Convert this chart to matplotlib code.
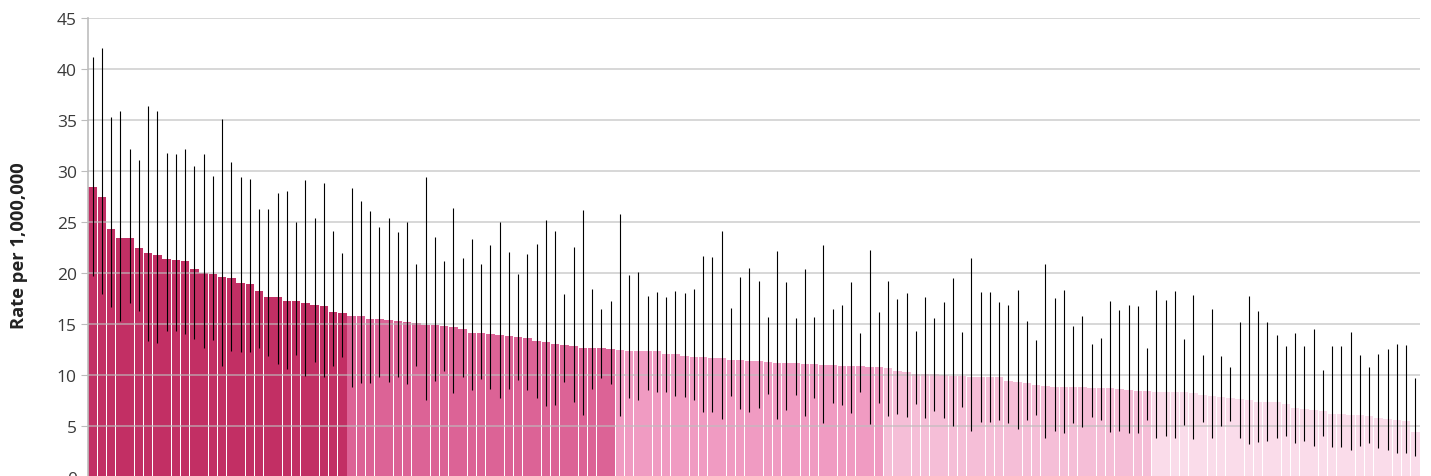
import numpy as np
import matplotlib
matplotlib.use("Agg")
import matplotlib.pyplot as plt

plt.rcParams['font.family'] = ['Open Sans', 'DejaVu Sans']

# rate per 1,000,000, sorted high to low
rates = [
    28.45, 27.5, 24.28, 23.43, 23.4, 22.5, 22.0, 21.73, 21.37, 21.3,
    21.2, 20.36, 20.03, 19.93, 19.58, 19.54, 19.02, 18.92, 18.27, 17.65,
    17.62, 17.25, 17.25, 17.03, 16.9, 16.8, 16.21, 16.08,
    15.81, 15.78, 15.49, 15.49, 15.36, 15.33, 15.16, 15.1, 14.9, 14.9,
    14.8, 14.7, 14.5, 14.15, 14.12, 14.02, 13.95, 13.79, 13.76, 13.63,
    13.33, 13.24, 13.07, 12.91, 12.88, 12.65, 12.65, 12.61, 12.55,
    12.45, 12.35, 12.32, 12.32, 12.32, 12.09, 12.06, 11.86, 11.76, 11.76,
    11.67, 11.63, 11.47, 11.44, 11.4, 11.37, 11.27, 11.18, 11.18, 11.18,
    11.08, 11.04, 10.98, 10.98, 10.88, 10.88, 10.88, 10.75, 10.75,
    10.69, 10.39, 10.29, 10.1, 10.1, 10.07, 10.03, 9.9, 9.87, 9.84,
    9.84, 9.84, 9.77, 9.41, 9.31, 9.25, 9.02, 8.92, 8.82, 8.82,
    8.82, 8.79, 8.73, 8.69, 8.69, 8.6, 8.53, 8.43, 8.4,
    8.37, 8.37, 8.37, 8.3, 8.2, 8.04, 7.97, 7.87, 7.75, 7.65,
    7.55, 7.39, 7.35, 7.32, 7.12, 6.8, 6.7, 6.57, 6.47, 6.18,
    6.18, 6.08, 6.08, 5.98, 5.82, 5.72, 5.59, 5.52, 4.44,
]

upper = [
    41.15, 42.06, 35.33, 35.88, 32.12, 31.05, 36.37, 35.9, 31.8, 31.7,
    32.12, 30.52, 31.67, 29.48, 35.06, 30.85, 29.38, 29.2, 26.27, 26.24,
    27.84, 28.07, 24.97, 29.12, 25.39, 28.82, 24.15, 21.99,
    28.36, 27.09, 26.08, 24.51, 25.39, 23.99, 25.0, 20.88, 29.41, 23.53,
    21.18, 26.37, 21.47, 23.37, 20.88, 22.75, 25.0, 22.09, 19.9, 21.83,
    22.84, 25.23, 24.12, 17.94, 22.52, 26.14, 18.4, 16.44, 17.25,
    25.78, 19.84, 20.07, 17.71, 18.17, 17.65, 18.27, 18.01, 18.43, 21.7,
    21.54, 24.08, 16.6, 19.61, 20.46, 19.18, 15.69, 22.16, 19.12, 15.56,
    20.39, 15.72, 22.71, 16.47, 16.86, 19.12, 14.12, 22.25, 16.18,
    19.25, 17.48, 18.04, 14.28, 17.68, 15.59, 17.12, 19.51, 14.22, 21.47,
    18.14, 18.1, 17.16, 16.86, 18.37, 15.26, 13.43, 20.88, 17.52, 18.33,
    14.84, 15.78, 13.04, 13.63, 17.25, 16.37, 16.83, 16.73, 12.61,
    18.33, 17.32, 18.27, 13.56, 17.88, 11.93, 16.47, 11.89, 10.82, 15.2,
    17.75, 16.27, 15.16, 13.92, 12.88, 14.12, 12.84, 14.48, 10.52, 12.84,
    12.84, 14.25, 11.99, 10.82, 12.09, 12.51, 13.04, 12.94, 9.71,
]

lower = [
    19.74, 17.97, 16.7, 15.33, 17.03, 16.3, 13.33, 13.14, 14.31, 14.28,
    13.99, 13.53, 12.65, 13.46, 10.88, 12.32, 12.25, 12.22, 12.68, 11.83,
    11.1, 10.62, 11.93, 9.9, 11.27, 9.83, 10.88, 11.76,
    8.85, 9.25, 9.25, 9.8, 9.31, 9.84, 9.15, 10.92, 7.55, 9.41,
    10.42, 8.2, 9.84, 8.56, 9.57, 8.6, 7.78, 8.6, 9.51, 8.5,
    7.78, 6.96, 7.09, 9.28, 7.35, 6.11, 8.63, 9.67, 9.15,
    6.01, 7.75, 7.58, 8.56, 8.37, 8.33, 7.97, 7.84, 7.58, 6.4,
    6.34, 5.65, 7.94, 6.7, 6.4, 6.8, 8.17, 5.72, 6.54, 8.07,
    6.01, 7.78, 5.33, 7.29, 7.09, 6.24, 8.37, 5.23, 7.22,
    6.01, 6.21, 5.92, 7.19, 5.78, 6.5, 5.82, 5.03, 6.9, 4.54,
    5.36, 5.36, 5.62, 5.26, 4.67, 5.59, 6.05, 3.79, 4.48, 4.28,
    5.26, 4.93, 5.88, 5.59, 4.44, 4.54, 4.35, 4.31, 5.62,
    3.86, 4.05, 3.79, 5.13, 3.73, 5.39, 3.86, 4.97, 5.52, 3.86,
    3.2, 3.4, 3.56, 3.86, 4.02, 3.3, 3.56, 3.0, 3.99, 2.94,
    2.94, 2.61, 3.07, 3.37, 2.81, 2.61, 2.39, 2.35, 2.03,
]

# bars per quintile, highest first
quintile_sizes = [28, 29, 29, 29, 29]
quintile_colors = ['#C22F64', '#DC6396', '#F09BC2', '#F5BED7', '#FADCEA']

colors = []
for size, col in zip(quintile_sizes, quintile_colors):
    colors += [col] * size

x = np.arange(len(rates))

fig = plt.figure(figsize=(14.31, 4.77), dpi=100)
ax = fig.add_axes([88 / 1431, -1 / 477, 1332 / 1431, 459 / 477])

ax.bar(x, rates, width=0.9, color=colors, zorder=1)
ax.vlines(x, lower, upper, color='black', lw=0.8, zorder=3)

ax.set_xlim(-0.5, len(rates) - 0.5)
ax.set_ylim(0, 45)
ax.set_yticks(range(0, 50, 5))
ax.set_xticks([])

ax.grid(axis='y', color='#bdbdbd', lw=1.3, alpha=0.65, zorder=2)
ax.set_axisbelow(False)

for side in ['top', 'right', 'bottom']:
    ax.spines[side].set_visible(False)
ax.spines['left'].set_color('#bdbdbd')
ax.spines['left'].set_linewidth(1.2)
ax.tick_params(axis='y', length=5, color='#bdbdbd', labelsize=12.5,
               labelcolor='#3a3a3a', pad=3)

fig.text(19 / 1431, 1 - 246 / 477, 'Rate per 1,000,000', rotation=90,
         ha='center', va='center', fontsize=13.2, fontweight='bold',
         color='#222222')

plt.savefig('out.png', dpi=100)
